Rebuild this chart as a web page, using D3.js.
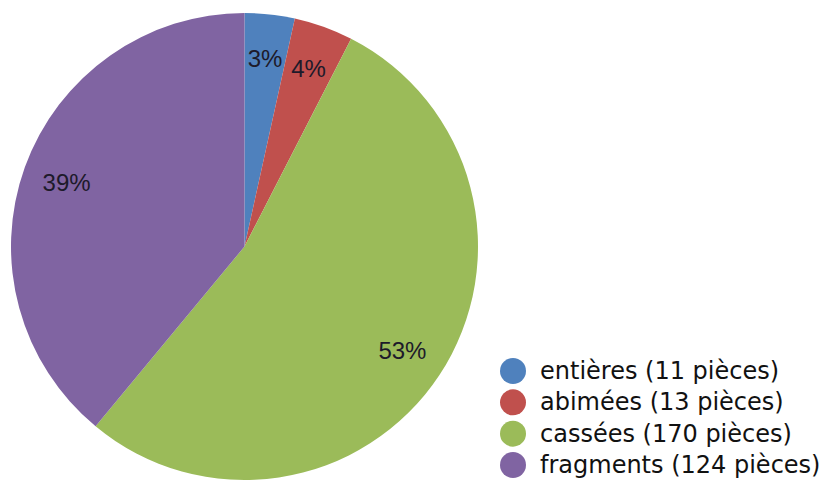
<!DOCTYPE html>
<html><head><meta charset="utf-8">
<script src="https://cdn.jsdelivr.net/npm/d3@7"></script>
<style>body{margin:0;background:#fff}svg{display:block}</style>
</head><body>
<svg id="c" width="827" height="482"></svg>
<script>
const categories = ["entières", "abimées", "cassées", "fragments"];
const values = [11, 13, 170, 124];
const legendLabels = ["entières (11 pièces)", "abimées (13 pièces)", "cassées (170 pièces)", "fragments (124 pièces)"];
const colors = ["#4F81BD", "#C0504D", "#9BBB59", "#8064A2"];

const svg = d3.select("#c");
const cx = 244.5, cy = 246.5, R = 233.5;
const total = d3.sum(values);
const pie = d3.pie().sort(null).value(d => d.v);
const arcs = pie(values.map((v, i) => ({v, i})));
const arc = d3.arc().innerRadius(0).outerRadius(R);
const labelArc = d3.arc().innerRadius(R * 0.81).outerRadius(R * 0.81);
const g = svg.append("g").attr("transform", `translate(${cx},${cy})`);
g.selectAll("path").data(arcs).enter().append("path")
  .attr("d", arc).attr("fill", d => colors[d.data.i]);
g.selectAll("text").data(arcs).enter().append("text")
  .attr("transform", d => `translate(${labelArc.centroid(d)})`)
  .attr("text-anchor", "middle").attr("dominant-baseline", "central")
  .attr("font-family", "'Liberation Sans Narrow', 'Liberation Sans', sans-serif")
  .attr("font-size", 24).attr("fill", "#1d1a2a")
  .text(d => Math.round(d.data.v / total * 100) + "%");

const ly = d3.scalePoint().domain(categories).range([371, 465]);
const lg = svg.append("g");
categories.forEach((c, i) => {
  lg.append("circle").attr("cx", 513).attr("cy", ly(c)).attr("r", 13).attr("fill", colors[i]);
  lg.append("text").attr("x", 540).attr("y", ly(c)).attr("dominant-baseline", "central")
    .attr("font-family", "'DejaVu Sans', sans-serif").attr("font-size", 24).attr("fill", "#111")
    .text(legendLabels[i]);
});
</script>
</body></html>
